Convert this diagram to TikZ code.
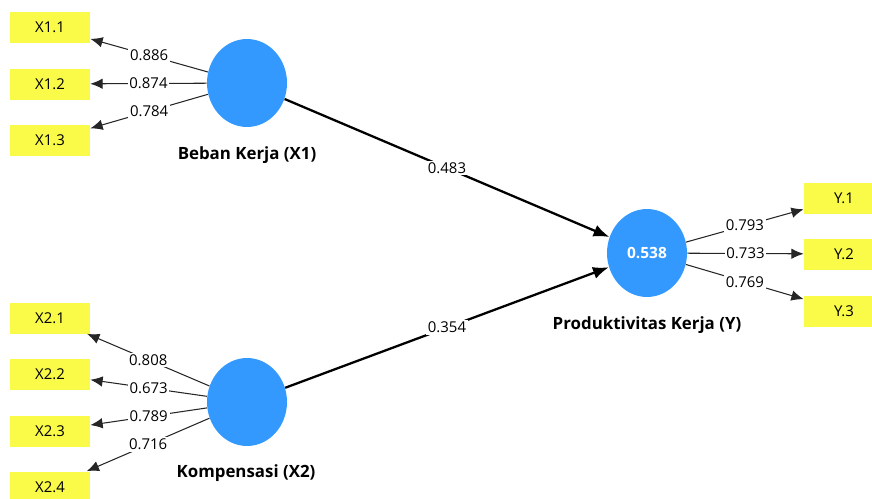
\documentclass[tikz,border=0pt]{standalone}
\usepackage{fontspec}
\setmainfont{Open Sans}
\definecolor{lvblue}{RGB}{51,153,255}
\definecolor{mvyellow}{RGB}{250,250,72}
\usetikzlibrary{arrows.meta,positioning,shapes.geometric}

\begin{document}
\begin{tikzpicture}[x=0.02cm,y=-0.02cm,
  latent/.style={ellipse,fill=lvblue,minimum width=1.6cm,minimum height=1.76cm,
    inner sep=0pt,font=\fontsize{8.8}{10}\selectfont\bfseries,text=white},
  indic/.style={rectangle,fill=mvyellow,minimum width=1.6cm,minimum height=0.62cm,
    inner sep=0pt,font=\fontsize{8.5}{10}\selectfont},
  lvname/.style={font=\fontsize{9.6}{11}\selectfont\bfseries},
  load/.style={draw=black!85,line width=0.6pt,-{Latex[length=7pt,width=6pt]}},
  pathc/.style={draw=black,line width=1.3pt,-{Latex[length=9pt,width=7pt]}},
  coef/.style={fill=white,inner sep=1pt,font=\fontsize{8.5}{10}\selectfont}
]
  \clip (0,0) rectangle (872,498);
  \node[indic] (x11) at (50,27.5) {X1.1};
  \node[indic] (x12) at (50,84) {X1.2};
  \node[indic] (x13) at (50,140) {X1.3};
  \node[indic] (x21) at (50,318) {X2.1};
  \node[indic] (x22) at (50,374) {X2.2};
  \node[indic] (x23) at (50,431) {X2.3};
  \node[indic] (x24) at (50,487) {X2.4};
  \node[indic] (y1) at (844,198) {Y.1};
  \node[indic] (y2) at (844,254) {Y.2};
  \node[indic] (y3) at (844,311) {Y.3};

  \node[latent] (beban) at (247,83) {};
  \node[latent] (komp) at (247,402) {};
  \node[latent] (prod) at (647,253) {0.538};
  \node[lvname] at (247,155) {Beban Kerja (X1)};
  \node[lvname] at (246,473) {Kompensasi (X2)};
  \node[lvname] at (647,325) {Produktivitas Kerja (Y)};

  \draw[load] (beban) -- node[coef] {0.886} (x11);
  \draw[load] (beban) -- node[coef] {0.874} (x12);
  \draw[load] (beban) -- node[coef] {0.784} (x13);
  \draw[load] (komp) -- node[coef] {0.808} (x21);
  \draw[load] (komp) -- node[coef] {0.673} (x22);
  \draw[load] (komp) -- node[coef] {0.789} (x23);
  \draw[load] (komp) -- node[coef] {0.716} (x24);
  \draw[load] (prod) -- node[coef] {0.793} (y1);
  \draw[load] (prod) -- node[coef] {0.733} (y2);
  \draw[load] (prod) -- node[coef] {0.769} (y3);

  \draw[pathc] (beban) -- node[coef] {0.483} (prod);
  \draw[pathc] (komp) -- node[coef] {0.354} (prod);
\end{tikzpicture}
\end{document}
